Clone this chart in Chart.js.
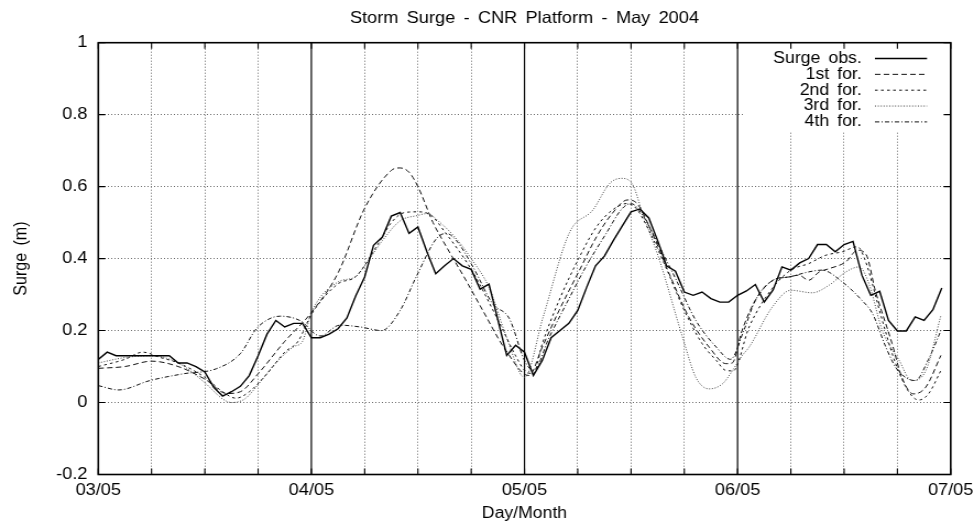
<!DOCTYPE html>
<html>
<head>
<meta charset="utf-8">
<title>Storm Surge - CNR Platform - May 2004</title>
<script src="https://cdn.jsdelivr.net/npm/chart.js@4.4.1/dist/chart.umd.min.js"></script>
<style>
  html, body { margin: 0; padding: 0; background: #fff; }
  canvas { display: block; }
</style>
</head>
<body>
<!-- Laid out 885 px wide and shown 974 px wide: this gives the broad gnuplot lettering. -->
<canvas id="plot" width="885" height="523" style="width:974px;height:523px"></canvas>
<script>
// Observed surge (m), hourly from 03/05 00:00 to 06/05 23:00
const obsSurge = [
  0.12, 0.14, 0.13, 0.13, 0.13, 0.13, 0.13, 0.13, 0.13, 0.11,
  0.11, 0.10, 0.085, 0.042, 0.018, 0.03, 0.045, 0.075, 0.13, 0.19,
  0.228, 0.21, 0.22, 0.22, 0.18, 0.18, 0.19, 0.205, 0.235, 0.297,
  0.349, 0.437, 0.46, 0.518, 0.528, 0.47, 0.488, 0.42, 0.358, 0.38,
  0.40, 0.38, 0.37, 0.315, 0.329, 0.23, 0.131, 0.159, 0.14, 0.075,
  0.117, 0.18, 0.20, 0.22, 0.256, 0.32, 0.38, 0.407, 0.45, 0.49,
  0.53, 0.538, 0.513, 0.45, 0.38, 0.365, 0.307, 0.298, 0.307, 0.289,
  0.279, 0.279, 0.298, 0.31, 0.328, 0.279, 0.313, 0.377, 0.368, 0.388,
  0.40, 0.439, 0.439, 0.419, 0.439, 0.448, 0.354, 0.298, 0.309, 0.228,
  0.199, 0.199, 0.238, 0.228, 0.258, 0.318
];

// Forecast runs: times (hours after 03/05 00:00) and surge (m)
const for1Hours = [0, 3, 6, 9, 12, 14.5, 16, 18, 21, 24, 27, 30, 33, 34, 35, 36, 37.7, 39.2, 41.4, 43.3,
  45.9, 48.5, 50, 51.9, 54.2, 56.1, 57.9, 59.6, 60.6, 62.4, 64.3, 66.5, 68.8, 70.7, 71.4,
  72.5, 74, 76, 77.8, 78.9, 80, 81.2, 82.3, 84.2, 85.5, 86.5, 87.5, 89.4, 90.5, 91.8, 93.2, 94.9];
const for1Surge = [0.095, 0.10, 0.115, 0.10, 0.065, 0.025, 0.03, 0.08, 0.17, 0.25, 0.36, 0.54, 0.645, 0.652, 0.64, 0.60, 0.50, 0.433, 0.34, 0.256,
  0.145, 0.075, 0.154, 0.256, 0.368, 0.46, 0.526, 0.563, 0.555, 0.47, 0.358, 0.238, 0.154, 0.108, 0.11,
  0.2, 0.284, 0.34, 0.349, 0.354, 0.34, 0.363, 0.372, 0.391, 0.423, 0.41, 0.312, 0.164, 0.07, 0.024, 0.043, 0.131];

const for2Hours = [0, 3, 5, 7, 9, 12, 14, 15.5, 17, 19, 21, 22.5, 24, 27, 29, 31.5, 33, 34.5, 36, 37.5,
  39, 42, 45, 47, 48, 49, 50, 51.9, 54.2, 56.1, 57.9, 59.5, 60.6, 62, 63.9, 66, 68, 69.6, 70.7, 71.5,
  73.3, 75.9, 78, 80, 81.9, 83.8, 85.5, 86.3, 88.3, 89.8, 91.3, 92.4, 93.5, 94.9];
const for2Surge = [0.10, 0.12, 0.14, 0.125, 0.11, 0.07, 0.03, 0.012, 0.03, 0.08, 0.14, 0.17, 0.245, 0.33, 0.35, 0.44, 0.50, 0.528, 0.53, 0.52,
  0.475, 0.37, 0.23, 0.13, 0.09, 0.08, 0.163, 0.284, 0.405, 0.488, 0.535, 0.553, 0.539, 0.479, 0.377, 0.256, 0.164, 0.117, 0.089, 0.088,
  0.21, 0.317, 0.368, 0.386, 0.409, 0.419, 0.433, 0.40, 0.228, 0.108, 0.029, 0.007, 0.024, 0.089];

const for3Hours = [0, 3, 6, 9, 12, 14, 15, 16.5, 18, 20, 22, 23, 24, 27, 29, 30, 32, 34, 36, 37,
  38.5, 40.5, 42, 44, 46, 48, 50.1, 53.1, 55.7, 57.6, 58.9, 60.1, 61.3, 63.2, 65.8, 67.3, 68.8, 70.3, 71.3, 72.5,
  73.3, 75.9, 78, 80.4, 82.3, 84.2, 85.7, 86.8, 88.3, 90.2, 91.6, 93.2, 94.9];
const for3Surge = [0.11, 0.125, 0.13, 0.11, 0.055, 0.01, 0.0, 0.01, 0.05, 0.11, 0.155, 0.17, 0.25, 0.335, 0.35, 0.38, 0.45, 0.505, 0.52, 0.525,
  0.50, 0.45, 0.40, 0.32, 0.18, 0.07, 0.238, 0.474, 0.535, 0.609, 0.623, 0.609, 0.526, 0.396, 0.182, 0.07, 0.038, 0.052, 0.084, 0.13,
  0.154, 0.265, 0.312, 0.305, 0.326, 0.363, 0.377, 0.33, 0.20, 0.117, 0.061, 0.089, 0.242];

const for4Hours = [0, 2.3, 5.8, 9.6, 13.3, 16, 17.8, 19.3, 20.5, 22.7, 25, 27.2, 29.5, 31.9, 34, 35.8, 38.1, 39.2, 40.3, 42.2,
  44.4, 46.3, 48, 49, 50.8, 53.1, 54.9, 57.2, 59, 60, 61.3, 63.2, 65.1, 67.3, 69.6, 71.2, 72.7, 74, 76, 77.8,
  80, 81.5, 83.8, 86, 87.2, 88.7, 89.8, 90.9, 92, 93.5, 94.9];
const for4Surge = [0.047, 0.035, 0.061, 0.08, 0.094, 0.136, 0.205, 0.233, 0.24, 0.228, 0.185, 0.215, 0.21, 0.20, 0.256, 0.349, 0.456, 0.47, 0.451, 0.377,
  0.275, 0.233, 0.117, 0.089, 0.182, 0.293, 0.377, 0.47, 0.539, 0.553, 0.521, 0.433, 0.34, 0.228, 0.154, 0.12, 0.2, 0.284, 0.34, 0.349,
  0.363, 0.368, 0.335, 0.284, 0.247, 0.154, 0.098, 0.07, 0.061, 0.12, 0.2];

const seriesNames = ['Surge obs.', '1st for.', '2nd for.', '3rd for.', '4th for.'];
const dayLabels = ['03/05', '04/05', '05/05', '06/05', '07/05'];
const yTickValues = [-0.2, 0, 0.2, 0.4, 0.6, 0.8, 1];
const yTickLabels = ['-0.2', '0', '0.2', '0.4', '0.6', '0.8', '1'];

const FONT = "'Liberation Sans', Arial, Helvetica, sans-serif";
const GRID = '#6a6a6a';
const NONE = 'rgba(0,0,0,0)';

const toPoints = (hours, values) => values.map((v, i) => ({ x: hours[i], y: v }));
const obsHours = obsSurge.map((_, i) => i);

const forecastStyle = (dash, color) => ({
  borderColor: color, borderWidth: 1, borderDash: dash,
  pointRadius: 0, cubicInterpolationMode: 'monotone', fill: false
});

// Frame, day separators, inward ticks and the key, drawn the gnuplot way
const framePlugin = {
  id: 'frame',
  beforeDraw(chart) {
    chart.ctx.wordSpacing = '3px';
  },
  beforeDatasetsDraw(chart) {
    const { ctx, chartArea: a, scales: { x } } = chart;
    ctx.save();
    ctx.strokeStyle = '#000';
    ctx.lineWidth = 1.2;
    ctx.setLineDash([]);
    for (let d = 1; d < dayLabels.length - 1; d++) {
      const px = x.getPixelForValue(d * 24);
      ctx.beginPath();
      ctx.moveTo(px, a.top);
      ctx.lineTo(px, a.bottom);
      ctx.stroke();
    }
    ctx.restore();
  },
  afterDatasetsDraw(chart) {
    const { ctx, chartArea: a, scales: { x, y } } = chart;
    ctx.save();

    // key
    ctx.fillStyle = '#fff';
    ctx.fillRect(677, 46, 181, 85);
    ctx.font = '16px ' + FONT;
    ctx.textAlign = 'right';
    ctx.textBaseline = 'middle';
    chart.data.datasets.forEach((ds, i) => {
      const ry = 58.5 + i * 15.85;
      ctx.fillStyle = '#000';
      ctx.fillText(ds.label, 783, ry);
      ctx.save();
      ctx.strokeStyle = ds.borderColor;
      ctx.lineWidth = ds.borderWidth;
      ctx.setLineDash(ds.borderDash || []);
      ctx.beginPath();
      ctx.moveTo(795, ry);
      ctx.lineTo(842.3, ry);
      ctx.stroke();
      ctx.restore();
    });

    // border
    ctx.setLineDash([]);
    ctx.strokeStyle = '#000';
    ctx.lineWidth = 1.6;
    ctx.strokeRect(a.left, a.top, a.right - a.left, a.bottom - a.top);

    // inward tick marks
    ctx.lineWidth = 1.1;
    ctx.beginPath();
    x.ticks.forEach(t => {
      const px = x.getPixelForValue(t.value);
      ctx.moveTo(px, a.bottom); ctx.lineTo(px, a.bottom - 6);
      ctx.moveTo(px, a.top); ctx.lineTo(px, a.top + 6);
    });
    yTickValues.forEach(v => {
      const py = y.getPixelForValue(v);
      ctx.moveTo(a.left, py); ctx.lineTo(a.left + 6.4, py);
      ctx.moveTo(a.right, py); ctx.lineTo(a.right - 6.4, py);
    });
    ctx.stroke();
    ctx.restore();
  }
};

Chart.defaults.font.family = FONT;
Chart.defaults.font.size = 16;
Chart.defaults.color = '#000';

new Chart(document.getElementById('plot'), {
  type: 'line',
  data: {
    datasets: [
      { label: seriesNames[0], data: toPoints(obsHours, obsSurge), borderColor: '#000', borderWidth: 1.4,
        borderDash: [], pointRadius: 0, tension: 0, fill: false },
      { label: seriesNames[1], data: toPoints(for1Hours, for1Surge), ...forecastStyle([5, 3], '#111') },
      { label: seriesNames[2], data: toPoints(for2Hours, for2Surge), ...forecastStyle([2.5, 3], '#111') },
      { label: seriesNames[3], data: toPoints(for3Hours, for3Surge), ...forecastStyle([1, 1.6], '#444') },
      { label: seriesNames[4], data: toPoints(for4Hours, for4Surge), ...forecastStyle([4, 2, 1, 2], '#111') }
    ]
  },
  options: {
    responsive: false,
    animation: false,
    devicePixelRatio: 1,
    layout: { padding: { left: 0, right: 21.2, top: 0, bottom: 0 } },
    plugins: {
      legend: { display: false },
      tooltip: { enabled: false },
      title: {
        display: true,
        text: 'Storm Surge - CNR Platform - May 2004',
        fullSize: false,
        align: 'center',
        color: '#000',
        font: { size: 16.5, weight: 'normal' },
        padding: { top: 9, bottom: 13.9 }
      }
    },
    scales: {
      x: {
        type: 'linear',
        min: 0,
        max: 96,
        afterBuildTicks: s => {
          s.ticks = [];
          for (let h = 0; h <= 96; h += 6) s.ticks.push({ value: h });
        },
        afterFit: s => {
          s.height = 48.5;
          s.paddingLeft = 0;
          s.paddingRight = 0;
        },
        ticks: {
          autoSkip: false,
          maxRotation: 0,
          padding: 5.6,
          font: { size: 16.5 },
          callback: v => (v % 24 === 0 ? dayLabels[v / 24] : '')
        },
        grid: {
          drawTicks: false,
          lineWidth: 1,
          color: c => (c.tick && c.tick.value % 24 === 0 ? NONE : GRID)
        },
        border: { display: false, dash: [1, 2] },
        title: { display: true, text: 'Day/Month', font: { size: 16 }, padding: { top: 0, bottom: 0 } }
      },
      y: {
        type: 'linear',
        min: -0.2,
        max: 1,
        afterBuildTicks: s => { s.ticks = yTickValues.map(v => ({ value: v })); },
        afterFit: s => {
          s.width = 89.3;
          s.paddingTop = 0;
          s.paddingBottom = 0;
        },
        ticks: {
          padding: 9.8,
          font: { size: 16.5 },
          callback: (v, i) => yTickLabels[i]
        },
        grid: {
          drawTicks: false,
          lineWidth: 1,
          color: c => (c.tick && (c.tick.value < -0.19 || c.tick.value > 0.99) ? NONE : GRID)
        },
        border: { display: false, dash: [1, 2] },
        title: { display: true, text: 'Surge (m)', font: { size: 16 }, padding: { top: 10.1, bottom: 0 } }
      }
    }
  },
  plugins: [framePlugin]
});
</script>
</body>
</html>
